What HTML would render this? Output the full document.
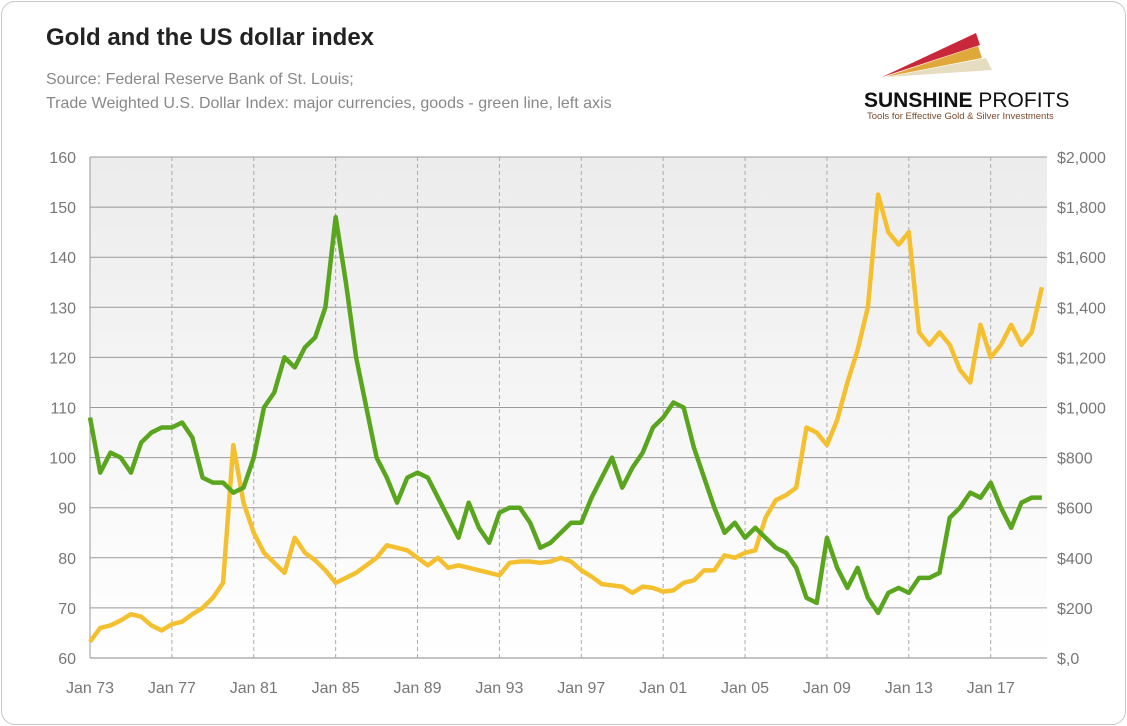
<!DOCTYPE html>
<html><head><meta charset="utf-8"><style>
body{margin:0;width:1127px;height:726px;background:#fff;font-family:"Liberation Sans",sans-serif;overflow:hidden}
#frame{position:absolute;left:1px;top:1px;width:1123px;height:722px;border:1px solid #c8c8c8;border-radius:14px}
</style></head><body>
<div id="frame"></div>
<svg id="c" width="1127" height="726" style="position:absolute;left:0;top:0">
<defs><linearGradient id="bg" x1="0" y1="0" x2="0" y2="1"><stop offset="0" stop-color="#ececec"/><stop offset="1" stop-color="#ffffff"/></linearGradient></defs>
<text x="46" y="45" font-size="24" font-weight="bold" fill="#222">Gold and the US dollar index</text>
<text x="46" y="84" font-size="16" fill="#888">Source: Federal Reserve Bank of St. Louis;</text>
<text x="46" y="108" font-size="16" fill="#888">Trade Weighted U.S. Dollar Index: major currencies, goods - green line, left axis</text>
<g>
<polygon points="882,77 976,33 980,45" fill="#c8283a"/>
<polygon points="885,77 978,46 982,58" fill="#e0a83a"/>
<polygon points="888,77 986,58 992,70" fill="#e6dcc0"/>
<text x="864" y="107" font-size="21" font-weight="bold" fill="#111">SUNSHINE <tspan font-weight="normal">PROFITS</tspan></text>
<text x="867" y="119" font-size="9.5" fill="#7a4a2a">Tools for Effective Gold &amp; Silver Investments</text>
</g>
<rect x="90" y="157" width="957" height="501" fill="url(#bg)"/>
<g id="grid"></g><g id="series"></g><g id="axes"></g>
</svg>
<script>
const years=[1973,1973.5,1974,1974.5,1975,1975.5,1976,1976.5,1977,1977.5,1978,1978.5,1979,1979.5,1980,1980.5,1981,1981.5,1982,1982.5,1983,1983.5,1984,1984.5,1985,1985.5,1986,1986.5,1987,1987.5,1988,1988.5,1989,1989.5,1990,1990.5,1991,1991.5,1992,1992.5,1993,1993.5,1994,1994.5,1995,1995.5,1996,1996.5,1997,1997.5,1998,1998.5,1999,1999.5,2000,2000.5,2001,2001.5,2002,2002.5,2003,2003.5,2004,2004.5,2005,2005.5,2006,2006.5,2007,2007.5,2008,2008.5,2009,2009.5,2010,2010.5,2011,2011.5,2012,2012.5,2013,2013.5,2014,2014.5,2015,2015.5,2016,2016.5,2017,2017.5,2018,2018.5,2019,2019.5];
const dollar=[108,97,101,100,97,103,105,106,106,107,104,96,95,95,93,94,100,110,113,120,118,122,124,130,148,135,120,110,100,96,91,96,97,96,92,88,84,91,86,83,89,90,90,87,82,83,85,87,87,92,96,100,94,98,101,106,108,111,110,102,96,90,85,87,84,86,84,82,81,78,72,71,84,78,74,78,72,69,73,74,73,76,76,77,88,90,93,92,95,90,86,91,92,92];
const gold=[65,120,130,150,175,165,130,110,135,145,175,200,240,300,850,620,500,420,380,340,480,420,390,350,300,320,340,370,400,450,440,430,400,370,400,360,370,360,350,340,330,380,385,385,380,385,400,385,350,325,295,290,285,260,285,280,265,270,300,310,350,350,410,400,420,430,560,630,650,680,920,900,850,950,1100,1230,1400,1850,1700,1650,1700,1300,1250,1300,1250,1150,1100,1330,1200,1250,1330,1250,1300,1480];
const leftTicks=[60,70,80,90,100,110,120,130,140,150,160];
const rightTicks=["$,0","$200","$400","$600","$800","$1,000","$1,200","$1,400","$1,600","$1,800","$2,000"];
const xLabels=["Jan 73","Jan 77","Jan 81","Jan 85","Jan 89","Jan 93","Jan 97","Jan 01","Jan 05","Jan 09","Jan 13","Jan 17"];
const xYears=[1973,1977,1981,1985,1989,1993,1997,2001,2005,2009,2013,2017];
const X0=90,X1=1047,Y0=658,Y1=157;
const xs=y=>X0+(y-1973)*(X1-X0)/(2019.75-1973);
const yl=v=>Y0-(v-60)*(Y0-Y1)/100;
const yr=v=>Y0-v*(Y0-Y1)/2000;
const NS="http://www.w3.org/2000/svg";
function mk(p,t,a){const e=document.createElementNS(NS,t);for(const k in a)e.setAttribute(k,a[k]);p.appendChild(e);return e;}
const grid=document.getElementById('grid'),axes=document.getElementById('axes'),ser=document.getElementById('series');
leftTicks.forEach((v,i)=>{
 const l=mk(grid,'line',{x1:X0,x2:X1,y1:yl(v),y2:yl(v),stroke:i==0?'#888':'#999','stroke-width':1});
 
 
 const t=mk(axes,'text',{x:76,y:yl(v)+6,'font-size':16,fill:'#777','text-anchor':'end'});t.textContent=v;
 
 
 const r=mk(axes,'text',{x:1057,y:yl(v)+6,'font-size':16,fill:'#777'});r.textContent=rightTicks[i];
 
 
});
xYears.forEach((y,i)=>{
 if(i>0){const l=mk(grid,'line',{x1:xs(y),x2:xs(y),y1:Y1,y2:Y0,stroke:'#aaa','stroke-dasharray':'4,3'});
 
 }
 const t=mk(axes,'text',{x:xs(y),y:693,'font-size':16,fill:'#777','text-anchor':'middle'});t.textContent=xLabels[i];
 
 
});
mk(grid,'line',{x1:X0,x2:X0,y1:Y1,y2:Y0,stroke:'#999'});
const g=mk(ser,'polyline',{points:years.map((y,i)=>xs(y)+','+yr(gold[i])).join(' '),fill:'none',stroke:'#f4c030','stroke-width':4.5,'stroke-linejoin':'round'});


const d=mk(ser,'polyline',{points:years.map((y,i)=>xs(y)+','+yl(dollar[i])).join(' '),fill:'none',stroke:'#5aa51e','stroke-width':4.5,'stroke-linejoin':'round'});


</script>
</body></html>
